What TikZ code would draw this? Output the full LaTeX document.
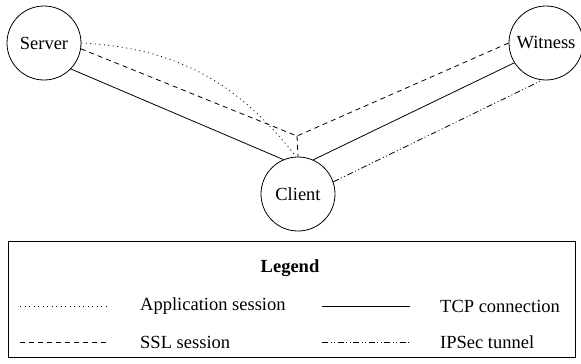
\documentclass[tikz,border=0pt]{standalone}
\usepackage{fontspec}
\setmainfont{Liberation Serif}
\newfontfamily\tmsfont{Liberation Serif}
\begin{document}
\begin{tikzpicture}[x=1pt,y=-1pt,
  every node/.style={font=\tmsfont\fontsize{18.5}{22}\selectfont},
  host/.style={draw,circle,minimum size=74pt,inner sep=0pt,line width=0.8pt},
  tcp/.style={line width=0.8pt},
  ssl/.style={line width=0.8pt,dash pattern=on 5pt off 4pt},
  app/.style={line width=0.8pt,dash pattern=on 1pt off 3.5pt},
  ipsec/.style={line width=0.8pt,dash pattern=on 6pt off 2.5pt on 1pt off 2.5pt on 1pt off 2.5pt},
  lbl/.style={anchor=west,inner sep=0pt}]
\useasboundingbox (0,0) rectangle (581,364);
\node[host] (S) at (44,43) {Server};
\node[host] (W) at (546,43) {Witness};
\node[host] (C) at (298,194) {Client};
\coordinate (J) at (297,136);
% connections
\draw[tcp] (S.-44) -- (C.113);
\draw[tcp] (C.66) -- (W.212);
\draw[ssl] (S.-9) -- (J) -- (W.180);
\draw[ssl] (J) -- (C.north);
\draw[app] (S.0) to[out=-3,in=128] (C.93);
\draw[ipsec] (C.19) -- (W.-96);
% legend
\node[draw,line width=0.8pt,minimum width=567pt,minimum height=116pt,inner sep=0pt] (L) at (292,299) {};
\node[font=\tmsfont\fontsize{18.5}{22}\selectfont\bfseries] (LT) at (290,268) {Legend};
\coordinate (a1) at (20,306); \coordinate (a2) at (108,306);
\coordinate (b1) at (20,342); \coordinate (b2) at (108,342);
\coordinate (c1) at (322,306); \coordinate (c2) at (410,306);
\coordinate (d1) at (322,342); \coordinate (d2) at (410,342);
\draw[app] (a1) -- (a2);
\draw[ssl] (b1) -- (b2);
\draw[tcp] (c1) -- (c2);
\draw[ipsec] (d1) -- (d2);
\node[lbl] (t1) at (140,306) {Application session};
\node[lbl] (t2) at (140,342) {SSL session};
\node[lbl] (t3) at (440,306) {TCP connection};
\node[lbl] (t4) at (440,342) {IPSec tunnel};
\end{tikzpicture}
\end{document}
